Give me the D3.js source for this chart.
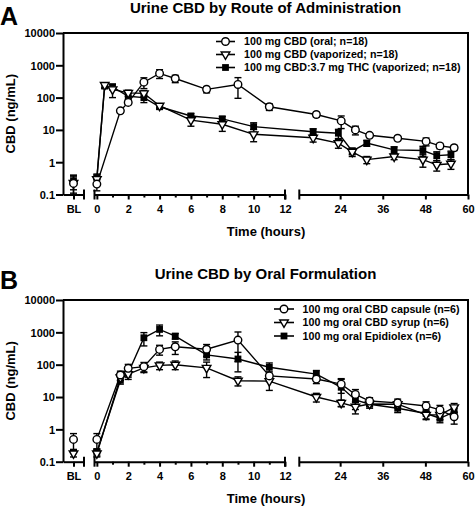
<!DOCTYPE html>
<html><head><meta charset="utf-8">
<script src="https://cdn.jsdelivr.net/npm/d3@7"></script>
<style>
body{margin:0;background:#fff}
svg{display:block}
text{font-family:"Liberation Sans",Arial,sans-serif;font-weight:bold;fill:#000}
</style>
</head><body><svg id="c" width="475" height="507"></svg>
<script>
// ---------- axis data ----------
const yTicks = [0.1, 1, 10, 100, 1000, 10000];
const yTickLabels = ["0.1", "1", "10", "100", "1000", "10000"];
const xTicksEarly = [0,1,2,3,4,5,6,7,8,9,10,11,12];
const xTicksLate = [24, 36, 48, 60];
const blLabel = ["BL"];

// ---------- Panel A: Urine CBD by Route of Administration ----------
const titleA = "Urine CBD by Route of Administration";
const namesA = ["100 mg CBD (oral; n=18)", "100 mg CBD (vaporized; n=18)", "100 mg CBD:3.7 mg THC (vaporized; n=18)"];
const oralHoursA = [0,1.5,2,3,4,5,7,9,11,17.3,24.3,28.3,32.3,40.2,48.2,52.1,56.1];
const oralA      = [0.21,39,71,300,560,390,180,255,52,30,19,10,6.8,5.5,4.4,3.2,2.8];
const oralErrA   = [0.08,5,10,110,170,100,40,160,12,5,8,3,1,0.8,1.2,0.6,0.5];
const oralBLA = 0.22, oralBLErrA = 0.18;
const vapHoursA  = [0,0.5,1,2,3,4,6,8,10,16.4,23.5,27.4,31.5,39.2,47.3,51.2,55.2];
const vapA       = [0.3,245,180,140,135,56,20,15,7.3,5.7,3.9,2.1,1.2,1.5,1.2,0.83,0.9];
const vapErrA    = [0.1,40,80,30,30,8,7,6,3,1.5,1.2,0.6,0.3,0.3,0.5,0.3,0.3];
const vapBLA = 0.23, vapBLErrA = 0.12;
const thcA       = [0.33,230,215,110,100,52,27,22,12.6,8.8,7.9,2.2,3.9,2.4,2.3,1.6,1.7];
const thcErrA    = [0.1,40,40,25,30,8,5,4,4,2,2.5,0.5,0.8,0.6,0.8,0.5,0.5];
const thcBLA = 0.26, thcBLErrA = 0.12;

// ---------- Panel B: Urine CBD by Oral Formulation ----------
const titleB = "Urine CBD by Oral Formulation";
const namesB = ["100 mg oral CBD capsule (n=6)", "100 mg oral CBD syrup (n=6)", "100 mg oral Epidiolex (n=6)"];
const hoursB   = [0,1.5,2,3,4,5,7,9,11,17.3,24.3,28.3,32.3,40.2,48.2,52.1,56.1];
const capsuleB = [0.49,48,77,87,297,357,300,575,45,36,25,12,7.5,6.6,5.3,4.0,2.45];
const capsuleErrB = [0.25,15,25,30,100,150,120,450,15,10,12,5,2,2,1.8,1.5,1];
const capsuleBL = 0.49, capsuleBLErr = 0.25;
const syrupB   = [0.18,40,51,80,95,100,80,32,31,10,6.6,5.0,6.1,6.0,2.8,2.8,4.8];
const syrupErrB = [0.04,8,10,20,25,30,40,10,15,3,1.5,2,1,1,0.8,0.8,1.5];
const syrupBL = 0.18, syrupBLErr = 0.04;
const epiB     = [0.2,33,55,680,1230,765,200,150,83,51,20,8.1,6,4.5,3.1,2.2,3.5];
const epiErrB  = [0.05,8,20,300,450,150,60,90,30,15,15,4,1.5,1.2,1,0.6,1];

const svg = d3.select("#c");

function trianglePath(s){ // downward-pointing triangle
  const h = s*Math.sqrt(3)/2;
  return `M0,${(2*h/3).toFixed(2)}L${(-s/2).toFixed(2)},${(-h/3).toFixed(2)}L${(s/2).toFixed(2)},${(-h/3).toFixed(2)}Z`;
}
function drawMarker(g, shape, x, y){
  if(shape==="circle"){
    g.append("circle").attr("cx",x).attr("cy",y).attr("r",3.8)
      .attr("fill","#fff").attr("stroke","#000").attr("stroke-width",1.4);
  } else if(shape==="triangle"){
    g.append("path").attr("d",trianglePath(8.6)).attr("transform",`translate(${x},${y})`)
      .attr("fill","#fff").attr("stroke","#000").attr("stroke-width",1.4);
  } else {
    g.append("rect").attr("x",x-3.4).attr("y",y-3.4).attr("width",6.8).attr("height",6.8)
      .attr("fill","#000");
  }
}

function panel(o){
  const top=o.top, bottom=o.bottom;
  const g = svg.append("g");
  const y = d3.scaleLog().domain([0.1,10000]).range([bottom, top]);
  const xBL = d3.scalePoint().domain(blLabel).range([63,84]).padding(0.5);
  const x1 = d3.scaleLinear().domain([-0.15,12]).range([94.5,285]);
  const x2 = d3.scaleLinear().domain([12.5,60]).range([299.3,468]);
  const xh = h => h<=12 ? x1(h) : x2(h);

  // frame
  g.append("path").attr("d",`M63,${top}H468V${bottom}`).attr("fill","none")
    .attr("stroke","#000").attr("stroke-width",2);

  // y axis
  const ya = g.append("g").attr("transform","translate(63,0)")
    .call(d3.axisLeft(y).tickValues(yTicks).tickFormat((d,i)=>yTickLabels[i]).tickSize(7).tickSizeOuter(0));
  ya.select(".domain").attr("stroke-width",2);
  ya.selectAll(".tick line").attr("stroke-width",2);
  ya.selectAll(".tick text").attr("x",-8).attr("dy","0.36em")
    .style("font-size","11px").style("font-family",null);

  // x axes
  function styleX(ax){
    ax.select(".domain").attr("stroke-width",2);
    ax.selectAll(".tick line").attr("stroke-width",2);
    ax.selectAll(".tick text").attr("y",18).attr("dy",0).style("font-size","11px").style("font-family",null);
  }
  const xa0 = g.append("g").attr("transform",`translate(0,${bottom})`)
    .call(d3.axisBottom(xBL).tickSize(5).tickSizeOuter(0));
  styleX(xa0);
  const xa1 = g.append("g").attr("transform",`translate(0,${bottom})`)
    .call(d3.axisBottom(x1).tickValues(xTicksEarly).tickFormat(d=>d%2===0?d:"").tickSize(5).tickSizeOuter(0));
  styleX(xa1);
  xa1.selectAll(".tick line").filter(d=>d%2!==0).attr("y2",3);
  const xa2 = g.append("g").attr("transform",`translate(0,${bottom})`)
    .call(d3.axisBottom(x2).tickValues(xTicksLate).tickSize(5).tickSizeOuter(0));
  styleX(xa2);
  // break caps
  [84, 94.5, 285, 299.3].forEach(xc=>{
    g.append("line").attr("x1",xc).attr("x2",xc).attr("y1",bottom-5).attr("y2",bottom+5)
      .attr("stroke","#000").attr("stroke-width",2);
  });

  // titles
  g.append("text").attr("x",265.5).attr("y",o.titleY).attr("text-anchor","middle")
    .style("font-size","15px").text(o.title);
  g.append("text").attr("x",0).attr("y",o.letterY).style("font-size","25px").text(o.letter);
  g.append("text").attr("x",266).attr("y",bottom+41.5).attr("text-anchor","middle")
    .style("font-size","13px").text("Time (hours)");
  g.append("text").attr("transform",`translate(15,${(top+bottom)/2}) rotate(-90)`)
    .attr("text-anchor","middle").style("font-size","13px").text("CBD (ng/mL)");

  // data
  const line = d3.line().x(d=>xh(d.h)).y(d=>y(d.v));
  const lg = g.append("g"), eg = g.append("g"), mg = g.append("g");
  function errBar(x, v, e){
    const yt = y(v+e);
    const lo = v-e;
    const yb = lo>0.1 ? y(lo) : bottom;
    eg.append("line").attr("x1",x).attr("x2",x).attr("y1",yt).attr("y2",yb)
      .attr("stroke","#000").attr("stroke-width",1.4);
    eg.append("line").attr("x1",x-3.5).attr("x2",x+3.5).attr("y1",yt).attr("y2",yt)
      .attr("stroke","#000").attr("stroke-width",1.4);
    if(lo>0.1) eg.append("line").attr("x1",x-3.5).attr("x2",x+3.5).attr("y1",yb).attr("y2",yb)
      .attr("stroke","#000").attr("stroke-width",1.4);
  }
  o.series.forEach(s=>{
    const pts = s.hours.map((h,i)=>({h, v:s.values[i], e:s.errs[i]}));
    lg.append("path").attr("d",line(pts)).attr("fill","none").attr("stroke","#000").attr("stroke-width",1.4);
    pts.forEach(p=>errBar(xh(p.h), p.v, p.e));
    if(s.bl!=null) errBar(xBL("BL"), s.bl, s.blErr);
  });
  // first series drawn on top
  o.series.slice().reverse().forEach(s=>{
    s.hours.forEach((h,i)=>drawMarker(mg, s.shape, xh(h), y(s.values[i])));
    if(s.bl!=null) drawMarker(mg, s.shape, xBL("BL"), y(s.bl));
  });

  // legend
  o.series.forEach((s,i)=>{
    const ly = o.legY[i];
    g.append("line").attr("x1",o.legX1).attr("x2",o.legX2).attr("y1",ly).attr("y2",ly)
      .attr("stroke","#000").attr("stroke-width",1.6);
    drawMarker(g, s.shape, (o.legX1+o.legX2)/2, ly);
    g.append("text").attr("x",o.legTX).attr("y",ly).attr("dy","0.36em")
      .style("font-size",o.legFont).text(s.name);
  });
}

panel({
  top:33, bottom:194.5, title:titleA, titleY:12.5, letter:"A", letterY:25,
  legX1:216, legX2:235, legTX:244, legY:[41.5,54.5,67.5], legFont:"10.7px",
  series:[
    {name:namesA[0], hours:oralHoursA, values:oralA, errs:oralErrA, bl:oralBLA, blErr:oralBLErrA, shape:"circle"},
    {name:namesA[1], hours:vapHoursA, values:vapA, errs:vapErrA, bl:vapBLA, blErr:vapBLErrA, shape:"triangle"},
    {name:namesA[2], hours:vapHoursA, values:thcA, errs:thcErrA, bl:thcBLA, blErr:thcBLErrA, shape:"square"}
  ]
});
panel({
  top:300, bottom:461.7, title:titleB, titleY:278.5, letter:"B", letterY:289,
  legX1:274, legX2:294, legTX:302.5, legY:[309,322.5,336], legFont:"10.7px",
  series:[
    {name:namesB[0], hours:hoursB, values:capsuleB, errs:capsuleErrB, bl:capsuleBL, blErr:capsuleBLErr, shape:"circle"},
    {name:namesB[1], hours:hoursB, values:syrupB, errs:syrupErrB, bl:syrupBL, blErr:syrupBLErr, shape:"triangle"},
    {name:namesB[2], hours:hoursB, values:epiB, errs:epiErrB, bl:null, blErr:null, shape:"square"}
  ]
});
</script>
</body></html>
